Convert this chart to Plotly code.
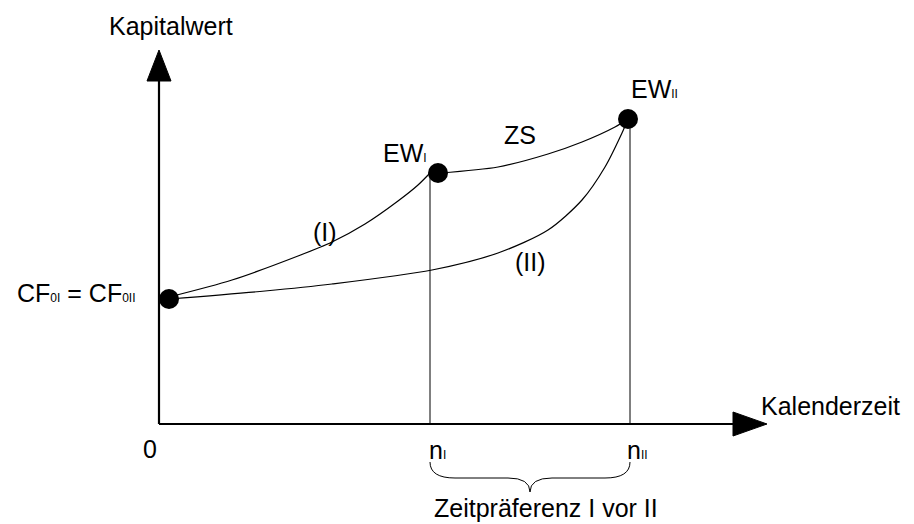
import plotly.graph_objects as go

# ---- data (chart units: x = calendar time, y = capital value) ----
start_point = (10, 125)            # CF0I = CF0II
ew_points_x = [279, 469]           # EW_I, EW_II markers
ew_points_y = [251, 305]
n_ticks = [271, 471]               # n_I, n_II
n_tops = [251, 305]

curve_I_x = [10, 73, 139, 173, 206, 239, 259, 271]
curve_I_y = [127, 144, 168, 182, 200, 223, 239, 251]

curve_II_x = [10, 106, 173, 273, 339, 389, 423, 446, 463, 469]
curve_II_y = [125, 133, 140, 154, 171, 194, 224, 257, 291, 305]

curve_ZS_x = [281, 339, 389, 423, 456, 469]
curve_ZS_y = [251, 257, 270, 282, 297, 305]

y_axis_top = 374
x_axis_right = 608

FONT = "Liberation Sans, Arial, sans-serif"
FS = 25
SUB = "<span style='font-size:12px'>{}</span>"

fig = go.Figure()

line_style = dict(color="black", width=1.2, shape="spline", smoothing=0.8)
fig.add_trace(go.Scatter(x=curve_I_x, y=curve_I_y, mode="lines", line=line_style, hoverinfo="skip"))
fig.add_trace(go.Scatter(x=curve_II_x, y=curve_II_y, mode="lines", line=line_style, hoverinfo="skip"))
fig.add_trace(go.Scatter(x=curve_ZS_x, y=curve_ZS_y, mode="lines", line=line_style, hoverinfo="skip"))

# vertical drop lines
for nx, top in zip(n_ticks, n_tops):
    fig.add_trace(go.Scatter(x=[nx, nx], y=[0, top], mode="lines",
                             line=dict(color="black", width=1), hoverinfo="skip"))

# points
fig.add_trace(go.Scatter(x=[start_point[0]] + ew_points_x, y=[start_point[1]] + ew_points_y,
                         mode="markers", marker=dict(color="black", size=20), hoverinfo="skip"))

# axes
fig.add_shape(type="line", x0=0, y0=0, x1=0, y1=y_axis_top - 30, line=dict(color="black", width=2.2))
fig.add_shape(type="line", x0=0, y0=0, x1=x_axis_right - 30, y1=0, line=dict(color="black", width=2.2))
fig.add_shape(type="path",
              path=f"M 0,{y_axis_top} L -12,{y_axis_top-31} L 12,{y_axis_top-31} Z",
              fillcolor="black", line=dict(color="black", width=1))
fig.add_shape(type="path",
              path=f"M {x_axis_right},0 L {x_axis_right-34},12 L {x_axis_right-34},-12 Z",
              fillcolor="black", line=dict(color="black", width=1))

# brace between n_I and n_II
a, b = n_ticks
m = (a + b) / 2
y0, yh, yc = -38, -54, -68
brace = (f"M {a},{y0} Q {a},{yh} {a+25},{yh} L {m-22},{yh} Q {m},{yh} {m},{yc} "
         f"Q {m},{yh} {m+22},{yh} L {b-25},{yh} Q {b},{yh} {b},{y0}")
fig.add_shape(type="path", path=brace, line=dict(color="black", width=1))

def label(x, y, text, xanchor="center", yanchor="middle"):
    fig.add_annotation(x=x, y=y, text=text, showarrow=False, xanchor=xanchor, yanchor=yanchor,
                       font=dict(family=FONT, size=FS, color="black"))

label(12, 398, "Kapitalwert")
label(671, 18, "Kalenderzeit")
label(-9, -25, "0")
label(n_ticks[0] + 7, -26, "n" + SUB.format("I"))
label(n_ticks[1] + 7, -26, "n" + SUB.format("II"))
label(387, -84, "Zeitpräferenz I vor II")
label(-83, 131, "CF" + SUB.format("0I") + " = CF" + SUB.format("0II"))
label(246, 271, "EW" + SUB.format("I"))
label(361, 289, "ZS")
label(495, 335, "EW" + SUB.format("II"))
label(166, 192, "(I)")
label(371, 162, "(II)")

fig.update_layout(
    width=914, height=524,
    margin=dict(l=0, r=0, t=0, b=0),
    paper_bgcolor="white", plot_bgcolor="white",
    showlegend=False,
    xaxis=dict(range=[-159, 755], visible=False, fixedrange=True),
    yaxis=dict(range=[-100, 424], visible=False, fixedrange=True),
)

fig.write_html("out.html", config={"displayModeBar": False},
               post_script="document.body.style.margin='0';")
